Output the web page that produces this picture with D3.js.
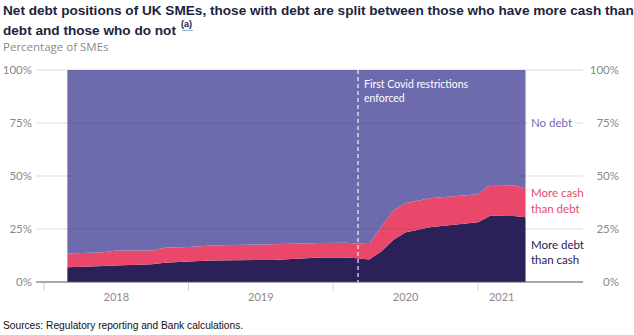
<!DOCTYPE html>
<html>
<head>
<meta charset="utf-8">
<script src="https://cdn.jsdelivr.net/npm/d3@7"></script>
<style>
  html, body { margin: 0; padding: 0; background: #fff; }
  svg { display: block; }
</style>
</head>
<body>
<svg id="chart" width="634" height="335"></svg>
<script>
// Monthly observations (first of month) of UK SME net debt positions, % of SMEs
const months = ["2018-03", "2018-06", "2018-07", "2018-10", "2018-11", "2019-01", "2019-03",
  "2019-08", "2019-12", "2020-02", "2020-03", "2020-04", "2020-05", "2020-06", "2020-07",
  "2020-09", "2021-01", "2021-02", "2021-04", "2021-05"];
const moreDebtThanCash = [7.0, 7.5, 7.8, 8.4, 9.1, 9.7, 10.2, 10.4, 11.5, 11.5, 11.2, 10.6,
  14.3, 19.8, 23.3, 25.8, 28.2, 31.3, 31.1, 30.5];
const moreCashThanDebt = [6.5, 6.5, 7.0, 6.4, 7.1, 6.8, 7.0, 7.4, 6.9, 7.0, 7.0, 7.3,
  11.7, 13.8, 13.8, 13.7, 13.2, 14.5, 14.5, 13.7];
const yTicks = [0, 25, 50, 75, 100];
const yearLabels = ["2018", "2019", "2020", "2021"];
const covidDate = "2020-03-04";

const parse = d3.timeParse("%Y-%m");
const rows = months.map((m, i) => ({
  date: parse(m),
  debt: moreDebtThanCash[i],
  cash: moreCashThanDebt[i],
  none: 100 - moreDebtThanCash[i] - moreCashThanDebt[i]
}));

const svg = d3.select("#chart");
const labelFont = "Lato, 'Open Sans', sans-serif";
const colors = { debt: "#2b2057", cash: "#e9486b", none: "#6d6bae" };

const x = d3.scaleTime()
  .domain([new Date(2018, 0, 1), new Date(2021, 0, 1)])
  .range([44, 478]);
const y = d3.scaleLinear().domain([0, 100]).range([282, 70]);
const gridLeft = 36, gridRight = 583;

// Title
const title = svg.append("text")
  .attr("font-family", "'Liberation Sans', Arial, sans-serif")
  .attr("font-weight", "bold").attr("font-size", 13.6).attr("fill", "#1c2340");
title.append("tspan").attr("x", 3).attr("y", 15)
  .text("Net debt positions of UK SMEs, those with debt are split between those who have more cash than");
title.append("tspan").attr("x", 3).attr("y", 35).text("debt and those who do not");
svg.append("text")
  .attr("font-family", "'Liberation Sans', Arial, sans-serif")
  .attr("font-weight", "bold").attr("font-size", 9).attr("fill", "#1c2340")
  .attr("x", 181).attr("y", 27).text("(a)");
svg.append("line").attr("x1", 182).attr("x2", 193).attr("y1", 30.5).attr("y2", 30.5)
  .attr("stroke", "#8fb3d3").attr("stroke-width", 1);

svg.append("text").attr("x", 3).attr("y", 51)
  .attr("font-family", "'Open Sans', sans-serif").attr("font-size", 11.5).attr("fill", "#8a8a8a")
  .text("Percentage of SMEs");

// Stacked areas
const stack = d3.stack().keys(["debt", "cash", "none"]);
const series = stack(rows);
const area = d3.area()
  .x(d => x(d.data.date))
  .y0(d => y(d[0]))
  .y1(d => y(d[1]));
svg.append("g").selectAll("path").data(series).join("path")
  .attr("d", area)
  .attr("fill", d => colors[d.key]);

// Gridlines drawn over the areas
svg.append("g").selectAll("line").data(yTicks.filter(t => t > 0)).join("line")
  .attr("x1", gridLeft).attr("x2", gridRight)
  .attr("y1", d => y(d)).attr("y2", d => y(d))
  .attr("stroke", "rgba(60,60,80,0.18)").attr("stroke-width", 1.2);

// Baseline axis
svg.append("line").attr("x1", gridLeft).attr("x2", gridRight)
  .attr("y1", y(0)).attr("y2", y(0))
  .attr("stroke", "#555").attr("stroke-width", 1.2);

// Year tick marks and labels
const yearStarts = yearLabels.map(s => new Date(+s, 0, 1));
svg.append("g").selectAll("line").data(yearStarts).join("line")
  .attr("x1", d => x(d)).attr("x2", d => x(d))
  .attr("y1", y(0) + 1).attr("y2", y(0) + 9)
  .attr("stroke", "#d0d0d0");
const lastDate = rows[rows.length - 1].date;
svg.append("g").selectAll("text").data(yearStarts).join("text")
  .attr("x", d => {
    const end = new Date(d.getFullYear() + 1, 0, 1);
    return (x(d) + x(end < lastDate ? end : lastDate)) / 2;
  })
  .attr("y", 301)
  .attr("text-anchor", "middle")
  .attr("font-family", labelFont).attr("font-size", 11).attr("fill", "#8a8a8a")
  .text(d => d.getFullYear());

// Y tick labels, both sides
const tickG = svg.append("g").attr("font-family", labelFont)
  .attr("font-size", 11.5).attr("fill", "#8a8a8a");
tickG.selectAll("text.l").data(yTicks).join("text").attr("class", "l")
  .attr("x", 32).attr("y", d => y(d) + 4).attr("text-anchor", "end")
  .text(d => d + "%");
tickG.selectAll("text.r").data(yTicks).join("text").attr("class", "r")
  .attr("x", 619).attr("y", d => y(d) + 4).attr("text-anchor", "end")
  .text(d => d + "%");

// Covid marker
const cx = x(d3.timeParse("%Y-%m-%d")(covidDate));
svg.append("line").attr("x1", cx).attr("x2", cx).attr("y1", y(100)).attr("y2", y(0))
  .attr("stroke", "#f2f2f8").attr("stroke-width", 1.2).attr("stroke-dasharray", "4,3");
const cov = svg.append("text").attr("font-family", labelFont).attr("font-size", 10.5)
  .attr("fill", "#ffffff");
cov.append("tspan").attr("x", cx + 6).attr("y", 88).text("First Covid restrictions");
cov.append("tspan").attr("x", cx + 6).attr("y", 102).text("enforced");

// Series labels at the right
svg.append("rect").attr("x", 528).attr("y", y(75) - 8).attr("width", 47).attr("height", 16)
  .attr("fill", "#fff");
const lab = svg.append("g").attr("font-family", labelFont).attr("font-size", 11.5);
lab.append("text").attr("x", 531).attr("y", y(75) + 4).attr("fill", colors.none).text("No debt");
const t2 = lab.append("text").attr("fill", colors.cash);
t2.append("tspan").attr("x", 531).attr("y", 197).text("More cash");
t2.append("tspan").attr("x", 531).attr("y", 213).text("than debt");
const t3 = lab.append("text").attr("fill", colors.debt);
t3.append("tspan").attr("x", 531).attr("y", 249).text("More debt");
t3.append("tspan").attr("x", 531).attr("y", 264).text("than cash");

// Source note
svg.append("text").attr("x", 3).attr("y", 329)
  .attr("font-family", "'Liberation Sans', Arial, sans-serif").attr("font-size", 10.2)
  .attr("fill", "#111").text("Sources: Regulatory reporting and Bank calculations.");
</script>
</body>
</html>
